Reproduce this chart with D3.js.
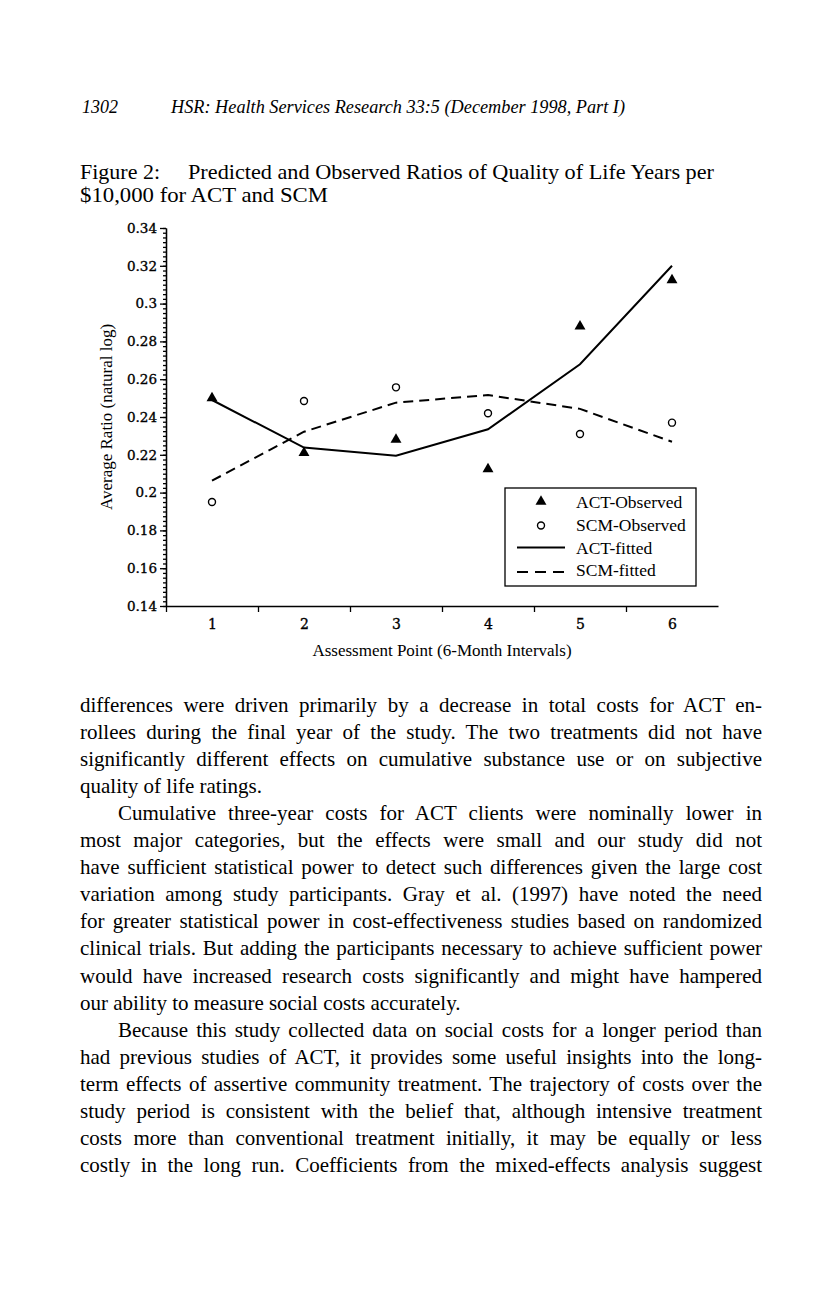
<!DOCTYPE html>
<html>
<head>
<meta charset="utf-8">
<script src="https://cdn.jsdelivr.net/npm/d3@7"></script>
<style>
  body { margin: 0; background: #fff; }
  svg { display: block; }
</style>
</head>
<body>
<div id="page"></div>
<script>
// Chart values
const assessment = [1, 2, 3, 4, 5, 6];
const actObserved = [0.250, 0.221, 0.228, 0.2125, 0.288, 0.3125];
const scmObserved = [0.195, 0.2485, 0.2557, 0.242, 0.231, 0.237];
const actFitted = [0.249, 0.2238, 0.2195, 0.2335, 0.2679, 0.320];
const scmFitted = [0.2063, 0.2322, 0.2476, 0.2516, 0.2443, 0.2269];
const yTicks = [0.14, 0.16, 0.18, 0.2, 0.22, 0.24, 0.26, 0.28, 0.3, 0.32, 0.34];
const yTickLabels = ["0.14", "0.16", "0.18", "0.2", "0.22", "0.24", "0.26", "0.28", "0.3", "0.32", "0.34"];
const legendLabels = ["ACT-Observed", "SCM-Observed", "ACT-fitted", "SCM-fitted"];

// Page text
const header = ["1302", "HSR: Health Services Research 33:5 (December 1998, Part I)"];
const caption = ["Figure 2:", "Predicted and Observed Ratios of Quality of Life Years per", "$10,000 for ACT and SCM"];
const bodyLines = [
  "differences were driven primarily by a decrease in total costs for ACT en-",
  "rollees during the final year of the study. The two treatments did not have",
  "significantly different effects on cumulative substance use or on subjective",
  "quality of life ratings.",
  "Cumulative three-year costs for ACT clients were nominally lower in",
  "most major categories, but the effects were small and our study did not",
  "have sufficient statistical power to detect such differences given the large cost",
  "variation among study participants. Gray et al. (1997) have noted the need",
  "for greater statistical power in cost-effectiveness studies based on randomized",
  "clinical trials. But adding the participants necessary to achieve sufficient power",
  "would have increased research costs significantly and might have hampered",
  "our ability to measure social costs accurately.",
  "Because this study collected data on social costs for a longer period than",
  "had previous studies of ACT, it provides some useful insights into the long-",
  "term effects of assertive community treatment. The trajectory of costs over the",
  "study period is consistent with the belief that, although intensive treatment",
  "costs more than conventional treatment initially, it may be equally or less",
  "costly in the long run. Coefficients from the mixed-effects analysis suggest"
];
const indented = [4, 12];
const lastOfParagraph = [3, 11];

const W = 816, H = 1309;
const serif = "'Liberation Serif', 'Times New Roman', serif";
const tickFont = "'DejaVu Serif', serif";

const svg = d3.select("#page").append("svg")
  .attr("width", W).attr("height", H);
svg.append("rect").attr("width", W).attr("height", H).attr("fill", "#fff");

// header
svg.append("text").attr("x", 82).attr("y", 113)
  .attr("font-family", serif).attr("font-style", "italic").attr("font-size", 18)
  .text(header[0]);
svg.append("text").attr("x", 171).attr("y", 113)
  .attr("font-family", serif).attr("font-style", "italic").attr("font-size", 18)
  .attr("textLength", 454).attr("lengthAdjust", "spacingAndGlyphs")
  .text(header[1]);

// caption
svg.append("text").attr("x", 80).attr("y", 179)
  .attr("font-family", serif).attr("font-size", 22).text(caption[0]);
svg.append("text").attr("x", 188).attr("y", 179)
  .attr("font-family", serif).attr("font-size", 22)
  .attr("textLength", 526).attr("lengthAdjust", "spacingAndGlyphs").text(caption[1]);
svg.append("text").attr("x", 80).attr("y", 202)
  .attr("font-family", serif).attr("font-size", 22)
  .attr("textLength", 248).attr("lengthAdjust", "spacingAndGlyphs").text(caption[2]);

// scales
const x = d3.scaleLinear().domain([0.5, 6.5]).range([166, 718]);
const y = d3.scaleLinear().domain([0.14, 0.34]).range([606, 228]);

// y axis: minor ticks then major ticks
const minor = d3.range(0.14, 0.3401, 0.0025);
svg.append("g").attr("transform", "translate(166,0)")
  .call(d3.axisLeft(y).tickValues(minor).tickSize(3).tickFormat("").tickSizeOuter(0))
  .call(g => g.selectAll("line,path").attr("stroke-width", 1.3));
svg.append("g").attr("transform", "translate(166,0)")
  .call(d3.axisLeft(y).tickValues(yTicks).tickSize(6).tickSizeOuter(0)
    .tickFormat((d, i) => yTickLabels[i]))
  .call(g => g.selectAll("line,path").attr("stroke-width", 1.3))
  .call(g => g.selectAll("text").attr("font-family", tickFont).attr("font-size", 13.5)
    .attr("fill", "#000").attr("stroke", "#000").attr("stroke-width", 0.35).attr("x", -9));

// x axis: ticks between points, labels at points
svg.append("g").attr("transform", "translate(0,606)")
  .call(d3.axisBottom(x).tickValues([0.5, 1.5, 2.5, 3.5, 4.5, 5.5]).tickSize(6)
    .tickSizeOuter(0).tickFormat(""))
  .call(g => g.selectAll("line,path").attr("stroke-width", 1.3));
svg.append("g").attr("transform", "translate(0,606)")
  .call(d3.axisBottom(x).tickValues(assessment).tickSize(0).tickFormat(d3.format("d")))
  .call(g => g.select(".domain").remove())
  .call(g => g.selectAll("text").attr("font-family", tickFont).attr("font-size", 14)
    .attr("fill", "#000").attr("stroke", "#000").attr("stroke-width", 0.35).attr("dy", "1.45em"));

// axis titles
svg.append("text")
  .attr("transform", "translate(112," + y(0.24) + ") rotate(-90)")
  .attr("text-anchor", "middle").attr("font-family", serif).attr("font-size", 17)
  .text("Average Ratio (natural log)");
svg.append("text").attr("x", 442).attr("y", 656)
  .attr("text-anchor", "middle").attr("font-family", serif).attr("font-size", 17)
  .text("Assessment Point (6-Month Intervals)");

// fitted lines
const line = vals => d3.line().x((d, i) => x(assessment[i])).y(d => y(d))(vals);
svg.append("path").attr("d", line(actFitted))
  .attr("fill", "none").attr("stroke", "#000").attr("stroke-width", 2);
svg.append("path").attr("d", line(scmFitted))
  .attr("fill", "none").attr("stroke", "#000").attr("stroke-width", 2)
  .attr("stroke-dasharray", "10,6");

// observed markers
const tri = d3.symbol().type(d3.symbolTriangle).size(52);
svg.selectAll(".act").data(actObserved).join("path")
  .attr("class", "act")
  .attr("transform", (d, i) => "translate(" + x(assessment[i]) + "," + y(d) + ")")
  .attr("d", tri).attr("fill", "#000");
svg.selectAll(".scm").data(scmObserved).join("circle")
  .attr("class", "scm")
  .attr("cx", (d, i) => x(assessment[i])).attr("cy", d => y(d)).attr("r", 3.5)
  .attr("fill", "#fff").attr("stroke", "#000").attr("stroke-width", 1.4);

// legend
const lg = svg.append("g");
lg.append("rect").attr("x", 505).attr("y", 488).attr("width", 191).attr("height", 98)
  .attr("fill", "#fff").attr("stroke", "#000").attr("stroke-width", 1.3);
const rowY = [501.5, 524.5, 547.5, 570];
lg.append("path").attr("transform", "translate(541," + rowY[0] + ")").attr("d", tri).attr("fill", "#000");
lg.append("circle").attr("cx", 541).attr("cy", rowY[1] + 1).attr("r", 3.5)
  .attr("fill", "#fff").attr("stroke", "#000").attr("stroke-width", 1.4);
lg.append("line").attr("x1", 517).attr("x2", 565).attr("y1", rowY[2]).attr("y2", rowY[2])
  .attr("stroke", "#000").attr("stroke-width", 2);
lg.append("line").attr("x1", 517).attr("x2", 565).attr("y1", rowY[3] + 2).attr("y2", rowY[3] + 2)
  .attr("stroke", "#000").attr("stroke-width", 2).attr("stroke-dasharray", "11,7");
lg.selectAll(".lt").data(legendLabels).join("text")
  .attr("class", "lt")
  .attr("x", 576).attr("y", (d, i) => rowY[i] + 6)
  .attr("font-family", serif).attr("font-size", 17.5)
  .text(d => d);

// body text, justified line by line
const textLeft = 80, textRight = 762, textTop = 712, lead = 27.05;
bodyLines.forEach((t, i) => {
  const x0 = indented.includes(i) ? textLeft + 38 : textLeft;
  const el = svg.append("text").attr("x", x0).attr("y", textTop + i * lead)
    .attr("font-family", serif).attr("font-size", 21).text(t);
  if (!lastOfParagraph.includes(i)) {
    const w = el.node().getComputedTextLength();
    const gaps = t.split(" ").length - 1;
    el.attr("word-spacing", ((textRight - x0) - w) / gaps);
  }
});
</script>
</body>
</html>
